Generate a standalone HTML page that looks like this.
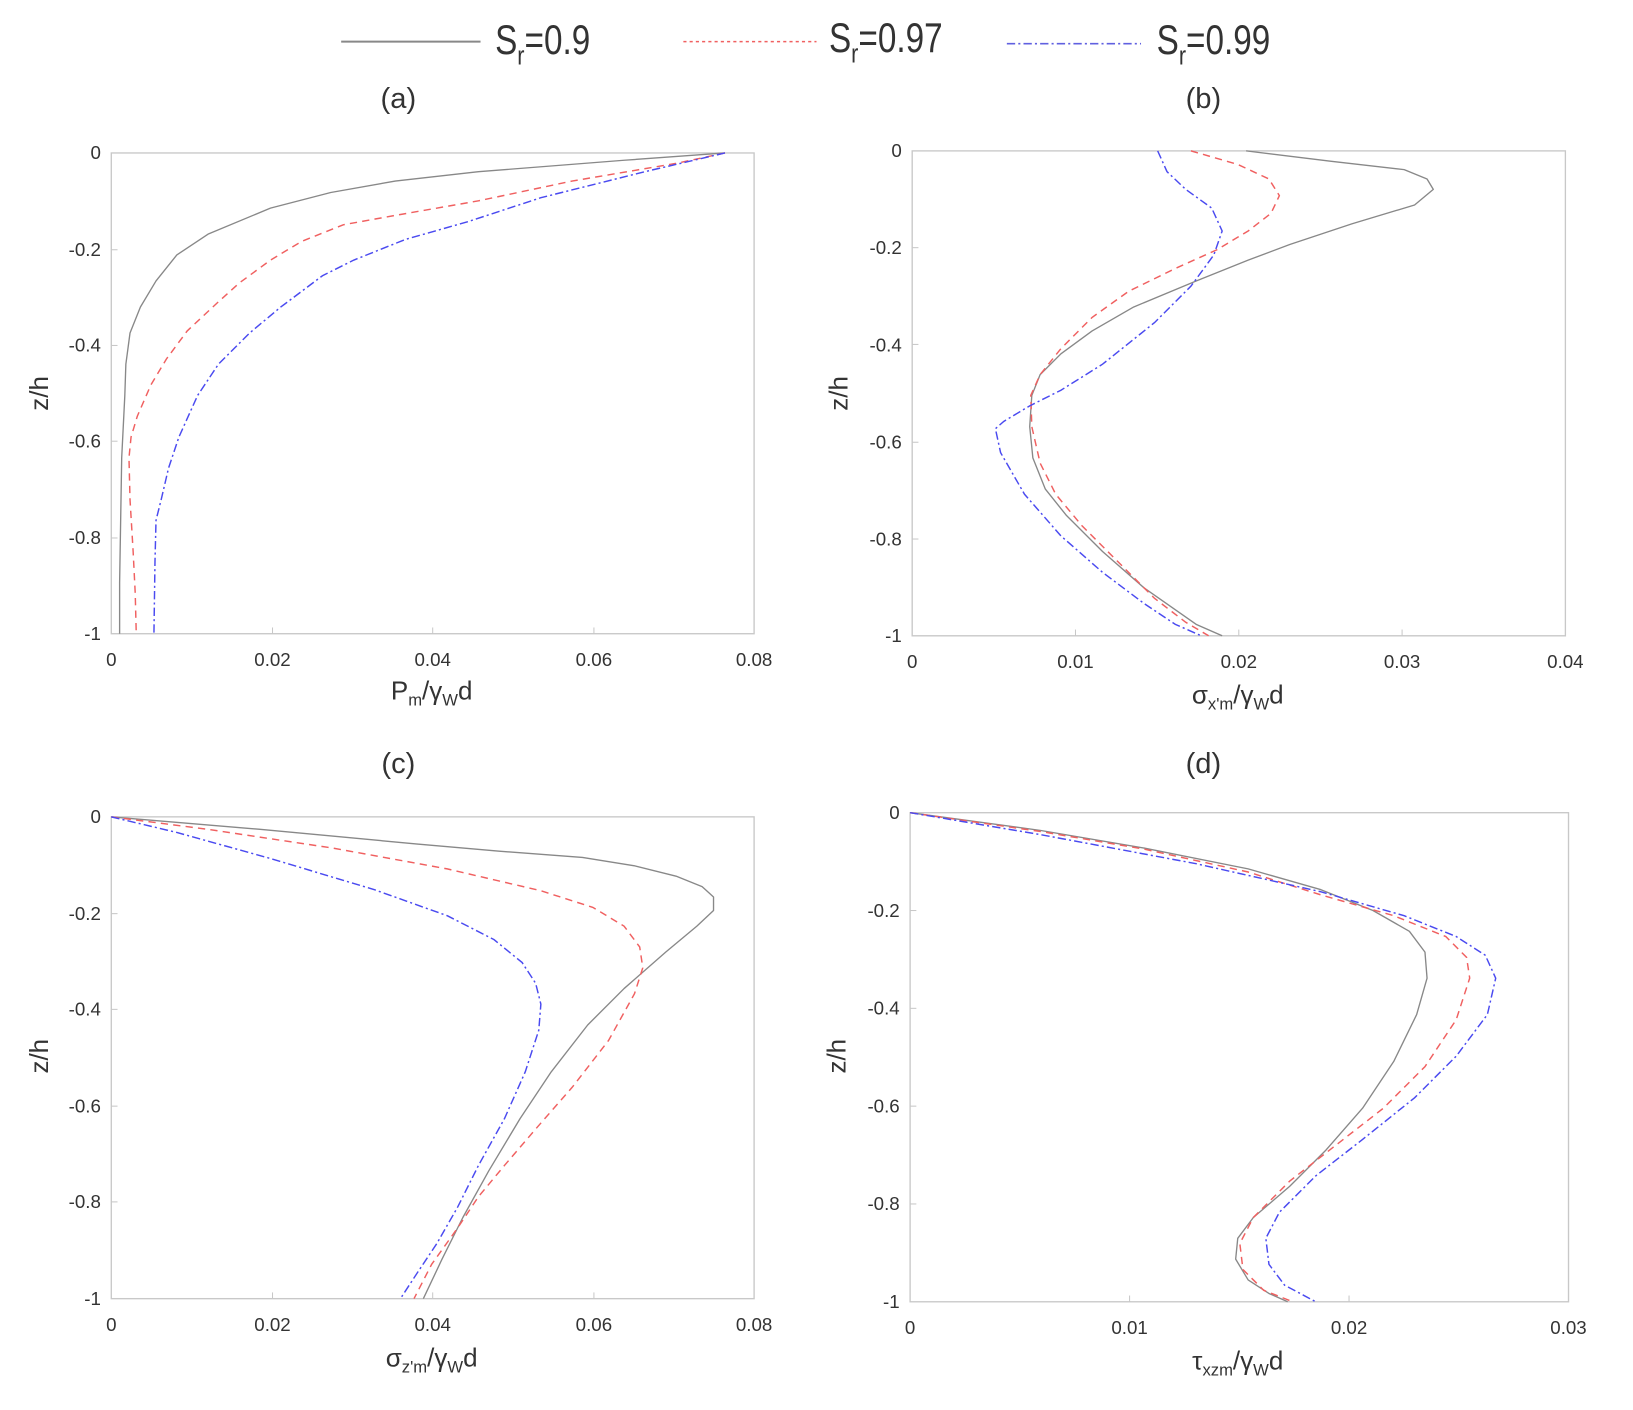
<!DOCTYPE html>
<html><head><meta charset="utf-8"><style>
html,body{margin:0;padding:0;background:#fff;}
svg{display:block;}
text{font-family:"Liberation Sans",sans-serif;fill:#333;}
.t{font-size:18px;}
.ax{fill:none;stroke:#c8c8c8;stroke-width:1.3;}
.g{fill:none;stroke:#888;stroke-width:1.3;stroke-linejoin:round;}
.r{fill:none;stroke:#f06060;stroke-width:1.4;stroke-dasharray:7,5;}
.b{fill:none;stroke:#4a4af0;stroke-width:1.4;stroke-dasharray:8,3,2,3;}
</style></head><body>
<svg width="1633" height="1410" viewBox="0 0 1570 1355" preserveAspectRatio="none" xmlns="http://www.w3.org/2000/svg">
<!-- legend -->
<line x1="328" y1="40" x2="462" y2="40" stroke="#888" stroke-width="2"/>
<line x1="657" y1="40" x2="785" y2="40" stroke="#f06060" stroke-width="1.5" stroke-dasharray="3,3"/>
<line x1="968" y1="42" x2="1097" y2="42" stroke="#6060e0" stroke-width="1.5" stroke-dasharray="8,3,2,3"/>
<g font-size="40">
<text transform="translate(476,52) scale(0.8,1)">S<tspan font-size="26" dy="10">r</tspan><tspan dy="-10">=0.9</tspan></text>
<text transform="translate(797,50) scale(0.8,1)">S<tspan font-size="26" dy="10">r</tspan><tspan dy="-10">=0.97</tspan></text>
<text transform="translate(1112,52) scale(0.8,1)">S<tspan font-size="26" dy="10">r</tspan><tspan dy="-10">=0.99</tspan></text>
</g>
<g font-size="28" text-anchor="middle">
<text x="383" y="104">(a)</text><text x="1157" y="104">(b)</text>
<text x="383" y="743">(c)</text><text x="1157" y="743">(d)</text>
</g>

<!-- Panel a -->
<rect class="ax" x="107" y="147" width="618" height="462"/>
<g class="t" text-anchor="end">
<text x="97" y="153">0</text><text x="97" y="246">-0.2</text><text x="97" y="338">-0.4</text><text x="97" y="430">-0.6</text><text x="97" y="523">-0.8</text><text x="97" y="615">-1</text>
</g>
<g class="t" text-anchor="middle">
<text x="107" y="640">0</text><text x="262" y="640">0.02</text><text x="416" y="640">0.04</text><text x="571" y="640">0.06</text><text x="725" y="640">0.08</text>
</g>
<g stroke="#c8c8c8"><line x1="262" y1="609" x2="262" y2="603"/><line x1="416" y1="609" x2="416" y2="603"/><line x1="571" y1="609" x2="571" y2="603"/>
<line x1="107" y1="240" x2="113" y2="240"/><line x1="107" y1="332" x2="113" y2="332"/><line x1="107" y1="424" x2="113" y2="424"/><line x1="107" y1="517" x2="113" y2="517"/></g>
<text x="415" y="672" font-size="25" text-anchor="middle">P<tspan font-size="16" dy="6">m</tspan><tspan dy="-6">/γ</tspan><tspan font-size="16" dy="6">W</tspan><tspan dy="-6">d</tspan></text>
<text transform="translate(46,378) rotate(-90)" font-size="25" text-anchor="middle">z/h</text>
<polyline class="g" points="697,147 600,154 460,165 380,174 318,185 260,200 200,225 170,245 150,270 135,295 125,320 121,350 120,380 117,440 116,500 115,560 115,609"/>
<polyline class="r" points="697,147 650,157 550,174 460,193 380,207 330,216 290,232 260,250 230,272 210,290 180,318 160,345 145,370 132,400 126,420 124,440 125,480 128,530 130,570 131,609"/>
<polyline class="b" points="697,147 620,165 520,190 450,213 390,230 340,250 310,265 270,295 240,320 210,350 190,380 172,420 162,450 155,480 150,500 149,540 148,609"/>

<!-- Panel b -->
<rect class="ax" x="877" y="145" width="628" height="466"/>
<g class="t" text-anchor="end">
<text x="867" y="151">0</text><text x="867" y="244">-0.2</text><text x="867" y="338">-0.4</text><text x="867" y="431">-0.6</text><text x="867" y="524">-0.8</text><text x="867" y="617">-1</text>
</g>
<g class="t" text-anchor="middle">
<text x="877" y="642">0</text><text x="1034" y="642">0.01</text><text x="1191" y="642">0.02</text><text x="1348" y="642">0.03</text><text x="1505" y="642">0.04</text>
</g>
<g stroke="#c8c8c8"><line x1="1034" y1="611" x2="1034" y2="605"/><line x1="1191" y1="611" x2="1191" y2="605"/><line x1="1348" y1="611" x2="1348" y2="605"/>
<line x1="877" y1="238" x2="883" y2="238"/><line x1="877" y1="331" x2="883" y2="331"/><line x1="877" y1="425" x2="883" y2="425"/><line x1="877" y1="518" x2="883" y2="518"/></g>
<text x="1190" y="676" font-size="25" text-anchor="middle">σ<tspan font-size="16" dy="6">x'm</tspan><tspan dy="-6">/γ</tspan><tspan font-size="16" dy="6">W</tspan><tspan dy="-6">d</tspan></text>
<text transform="translate(815,378) rotate(-90)" font-size="25" text-anchor="middle">z/h</text>
<polyline class="g" points="1198,145 1280,155 1350,163 1372,172 1378,182 1360,197 1300,215 1240,235 1200,250 1150,270 1090,295 1050,318 1020,340 1000,360 992,380 990,410 993,440 1005,470 1025,495 1060,530 1100,565 1150,600 1175,611"/>
<polyline class="r" points="1145,145 1190,158 1220,172 1230,188 1222,205 1200,222 1170,240 1130,258 1085,280 1050,305 1020,335 1000,360 991,380 992,410 1000,445 1015,475 1040,505 1070,535 1110,575 1140,598 1162,611"/>
<polyline class="b" points="1113,145 1122,165 1140,182 1165,200 1175,222 1167,245 1145,275 1110,310 1060,350 1020,375 990,390 965,405 957,412 962,435 985,475 1020,515 1060,550 1100,580 1130,600 1155,611"/>

<!-- Panel c -->
<rect class="ax" x="107" y="785" width="618" height="463"/>
<g class="t" text-anchor="end">
<text x="97" y="791">0</text><text x="97" y="884">-0.2</text><text x="97" y="976">-0.4</text><text x="97" y="1069">-0.6</text><text x="97" y="1161">-0.8</text><text x="97" y="1254">-1</text>
</g>
<g class="t" text-anchor="middle">
<text x="107" y="1279">0</text><text x="262" y="1279">0.02</text><text x="416" y="1279">0.04</text><text x="571" y="1279">0.06</text><text x="725" y="1279">0.08</text>
</g>
<g stroke="#c8c8c8"><line x1="262" y1="1248" x2="262" y2="1242"/><line x1="416" y1="1248" x2="416" y2="1242"/><line x1="571" y1="1248" x2="571" y2="1242"/>
<line x1="107" y1="878" x2="113" y2="878"/><line x1="107" y1="970" x2="113" y2="970"/><line x1="107" y1="1063" x2="113" y2="1063"/><line x1="107" y1="1155" x2="113" y2="1155"/></g>
<text x="415" y="1313" font-size="25" text-anchor="middle">σ<tspan font-size="16" dy="6">z'm</tspan><tspan dy="-6">/γ</tspan><tspan font-size="16" dy="6">W</tspan><tspan dy="-6">d</tspan></text>
<text transform="translate(46,1015) rotate(-90)" font-size="25" text-anchor="middle">z/h</text>
<polyline class="g" points="107,785 250,797 400,811 480,818 560,824 610,832 650,842 675,852 686,862 686,875 670,890 640,915 600,950 565,985 530,1030 500,1075 470,1125 445,1170 425,1210 407,1248"/>
<polyline class="r" points="107,785 200,797 320,815 430,835 520,856 570,872 600,890 615,910 618,930 610,955 585,1000 550,1045 515,1085 485,1120 460,1150 440,1180 415,1215 398,1248"/>
<polyline class="b" points="107,785 170,800 260,825 360,855 430,880 475,903 502,925 515,945 520,965 518,990 505,1030 485,1075 460,1120 440,1160 420,1195 400,1225 385,1248"/>

<!-- Panel d -->
<rect class="ax" x="875" y="781" width="633" height="470"/>
<g class="t" text-anchor="end">
<text x="865" y="787">0</text><text x="865" y="881">-0.2</text><text x="865" y="975">-0.4</text><text x="865" y="1069">-0.6</text><text x="865" y="1163">-0.8</text><text x="865" y="1257">-1</text>
</g>
<g class="t" text-anchor="middle">
<text x="875" y="1282">0</text><text x="1086" y="1282">0.01</text><text x="1297" y="1282">0.02</text><text x="1508" y="1282">0.03</text>
</g>
<g stroke="#c8c8c8"><line x1="1086" y1="1251" x2="1086" y2="1245"/><line x1="1297" y1="1251" x2="1297" y2="1245"/>
<line x1="875" y1="875" x2="881" y2="875"/><line x1="875" y1="969" x2="881" y2="969"/><line x1="875" y1="1063" x2="881" y2="1063"/><line x1="875" y1="1157" x2="881" y2="1157"/></g>
<text x="1190" y="1316" font-size="25" text-anchor="middle">τ<tspan font-size="16" dy="6">xzm</tspan><tspan dy="-6">/γ</tspan><tspan font-size="16" dy="6">W</tspan><tspan dy="-6">d</tspan></text>
<text transform="translate(813,1015) rotate(-90)" font-size="25" text-anchor="middle">z/h</text>
<polyline class="g" points="875,781 1000,798 1100,815 1200,835 1270,855 1320,875 1355,895 1370,915 1372,940 1362,975 1340,1020 1310,1065 1275,1105 1240,1140 1205,1170 1190,1190 1188,1210 1200,1230 1220,1243 1238,1251"/>
<polyline class="r" points="875,781 1000,799 1100,816 1200,838 1270,860 1340,880 1390,900 1410,920 1413,940 1400,980 1370,1025 1330,1065 1285,1100 1240,1135 1205,1170 1192,1195 1195,1220 1215,1240 1243,1251"/>
<polyline class="b" points="875,781 1000,802 1150,830 1270,857 1350,880 1400,900 1428,918 1438,940 1430,975 1400,1015 1360,1055 1310,1095 1265,1130 1230,1165 1217,1190 1220,1215 1235,1235 1265,1251"/>
</svg>
</body></html>
